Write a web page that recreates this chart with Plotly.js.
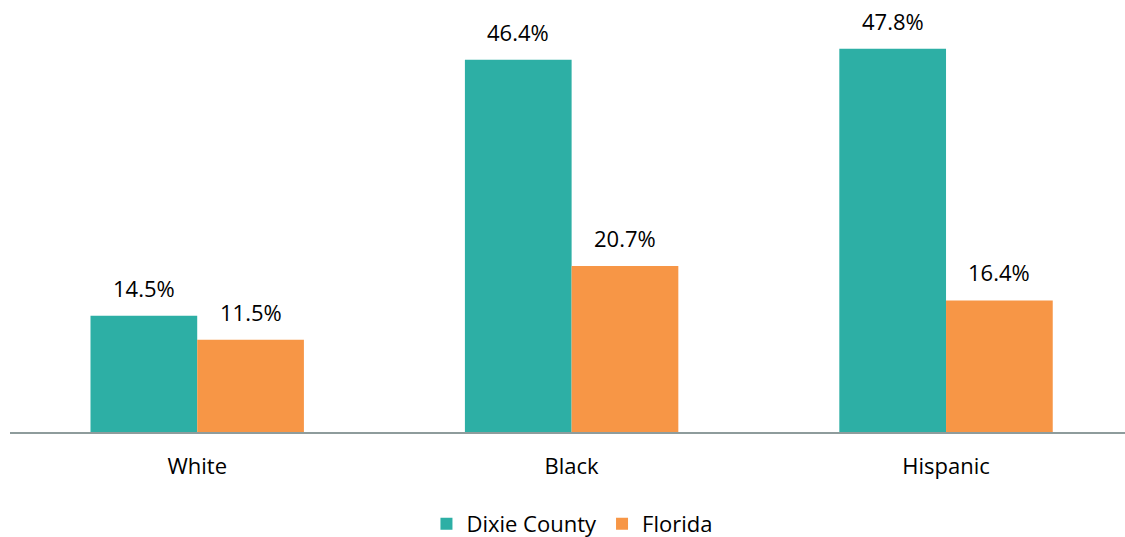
<!DOCTYPE html>
<html>
<head>
<meta charset="utf-8">
<script src="https://cdn.plot.ly/plotly-3.0.1.min.js"></script>
<style>html,body{margin:0;padding:0;background:#fff;}#chart{width:1125px;height:537px;}</style>
</head>
<body>
<div id="chart"></div>
<script>
const categories = ["White", "Black", "Hispanic"];
const dixieCounty = [14.5, 46.4, 47.8];
const florida = [11.5, 20.7, 16.4];
const seriesNames = ["Dixie County", "Florida"];

const FONT = "'Open Sans', sans-serif";
const colors = ["#2DAFA5", "#F79646"];
const bargap = 0.43;
const xIdx = categories.map((c, i) => i);

const traces = [dixieCounty, florida].map((vals, s) => ({
  type: "bar",
  name: seriesNames[s],
  x: xIdx,
  y: vals,
  marker: {color: colors[s]},
  hoverinfo: "skip"
}));

const half = (1 - bargap) / 4;
const annotations = [];
[dixieCounty, florida].forEach((vals, s) => {
  vals.forEach((v, i) => {
    annotations.push({
      x: i + (s === 0 ? -half : half),
      y: v,
      xref: "x", yref: "y",
      text: v.toFixed(1) + "%",
      showarrow: false,
      yanchor: "bottom",
      yshift: 11,
      font: {family: FONT, size: 22, color: "#000"}
    });
  });
});

const layout = {
  width: 1125, height: 537,
  margin: {l: 10, r: 0, t: 31, b: 105, autoexpand: false},
  paper_bgcolor: "#fff", plot_bgcolor: "#fff",
  barmode: "group",
  bargap: bargap,
  bargroupgap: 0,
  showlegend: true,
  legend: {
    orientation: "h",
    x: 0.504, xanchor: "center",
    y: -0.229, yanchor: "middle",
    font: {family: FONT, size: 22, color: "#000"},
    itemwidth: 30
  },
  xaxis: {
    range: [-0.5, 2.478],
    tickvals: xIdx,
    ticktext: categories,
    showgrid: false, zeroline: false,
    showline: true, linecolor: "#8E9C9C", linewidth: 2,
    ticks: "",
    ticklabelstandoff: 14,
    tickfont: {family: FONT, size: 22, color: "#000"},
    fixedrange: true
  },
  yaxis: {
    range: [0, 50],
    visible: false,
    showgrid: false, zeroline: false,
    fixedrange: true
  },
  annotations: annotations
};

Plotly.newPlot("chart", traces, layout, {displayModeBar: false, staticPlot: true});
</script>
</body>
</html>
